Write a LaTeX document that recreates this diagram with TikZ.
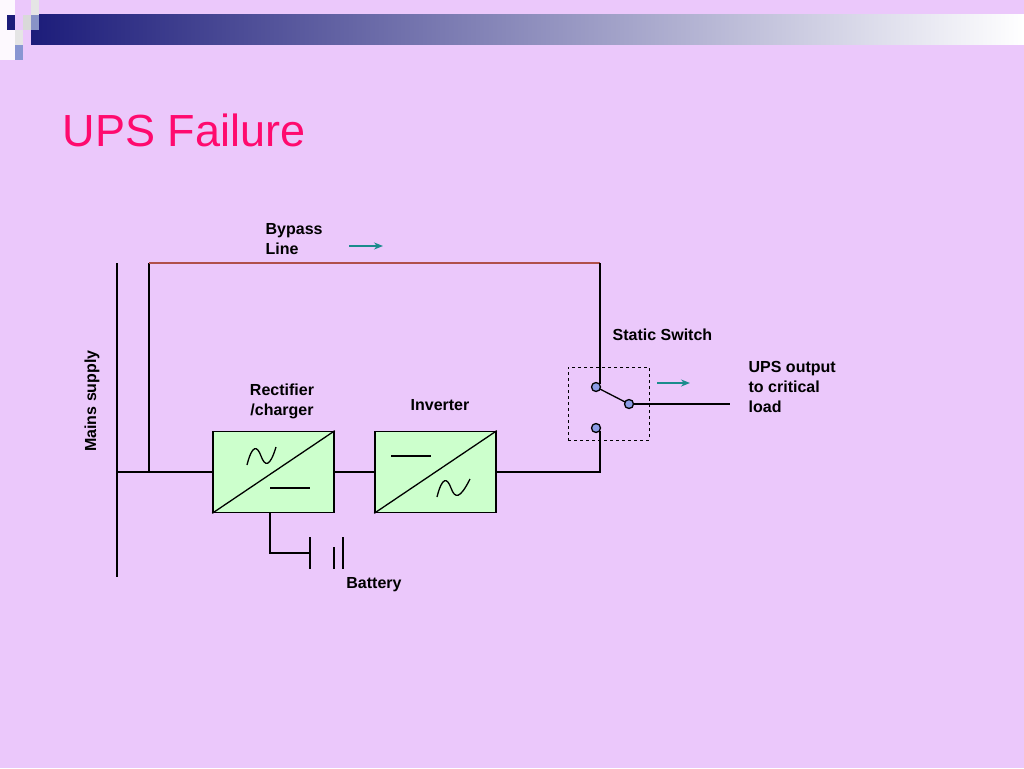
\documentclass[tikz,border=0pt]{standalone}
\usepackage{fontspec}
\setmainfont{Liberation Sans}
\usetikzlibrary{positioning}
\usetikzlibrary{arrows.meta}
\definecolor{slidebg}{HTML}{EBC8FB}
\definecolor{titlepink}{HTML}{FF0A6E}
\definecolor{boxgreen}{HTML}{CCFFCC}
\definecolor{tealarrow}{HTML}{1A8C8C}
\definecolor{contact}{HTML}{8C9CE6}
\definecolor{bypassred}{HTML}{B0504A}
\definecolor{navy}{HTML}{1C1C7A}
\tikzset{
  lbl/.style={font=\bfseries\fontsize{16}{20}\selectfont, inner sep=0pt},
  conv/.style={draw, fill=boxgreen, minimum width=121pt, minimum height=81pt, inner sep=0pt, line width=1.6pt},
  pin/.style={circle, draw, fill=contact, minimum size=9pt, inner sep=0pt},
  flow/.style={-{Stealth[length=9pt,width=7pt]}, tealarrow, line width=1.5pt}
}
\begin{document}
\begin{tikzpicture}[x=1pt, y=-1pt, line width=1.3pt]
        % Background and header
        \fill[slidebg] (0,0) rectangle (1024,768);
        \useasboundingbox (0,0) rectangle (1024,768);
        \shade[left color=navy, right color=white, draw=none] (31,15) rectangle (1024,45);
        \fill[white!90!slidebg] (0,0) rectangle (15,60);
        \fill[navy] (7,15) rectangle (15,30);
        \fill[white!70!gray] (23,15) rectangle (31,30);
        \fill[contact!70!gray] (31,15) rectangle (39,30);
        \fill[white!80!gray] (31,0) rectangle (39,15);
        \fill[contact!80!gray] (15,45) rectangle (23,60);
        \fill[white!80!gray] (15,30) rectangle (23,45);
        \node[anchor=west, text=titlepink, font=\fontsize{45}{50}\selectfont, inner sep=0pt] (title) at (62,130) {UPS Failure};

        % Define the coordinates of the points
        \coordinate (mainsTop) at (117,263);
        \coordinate (mainsBot) at (117,577);
        \coordinate (tap) at (117,472);
        \coordinate (byBot) at (149,472);
        \coordinate (byTop) at (149,263);
        \coordinate (byEnd) at (600,263);
        \coordinate (outEnd) at (730,404);
        \coordinate (invOut) at (600,472);
        \coordinate (batTap) at (270,513);

        % Converters
        \node[conv] (rect) at (273.5,472) {};
        \node[conv] (inv) at (435.5,472) {};
        \draw (rect.south west) -- (rect.north east);
        \draw (inv.south west) -- (inv.north east);
        \draw (247,465) .. controls (252,445) and (257,445) .. (261,456) .. controls (265,467) and (270,467) .. (276,447);
        \draw (270,488) -- (310,488);
        \draw (391,456) -- (431,456);
        \draw (437,497) .. controls (442,477) and (447,477) .. (451,488) .. controls (455,499) and (460,499) .. (470,479);

        % Static switch
        \node[draw, dashed, line width=1pt, minimum width=81pt, minimum height=73pt] (sw) at (608.5,403.5) {};

        % Draw the lines
        \draw (mainsTop) -- (mainsBot);
        \draw (tap) -- (rect.west);
        \draw (byBot) -- (byTop);
        \draw[bypassred] (byTop) -- (byEnd);
        \draw (byEnd) -- (600,384);
        \draw (596,387) -- (629,404);
        \draw (629,404) -- (outEnd);
        \draw (rect.east) -- (inv.west);
        \draw (inv.east) -- (invOut) -- (600,431);
        \node[pin] (pa) at (596,387) {};
        \node[pin] (pb) at (629,404) {};
        \node[pin] (pc) at (596,428) {};

        % Battery
        \coordinate (batA) at (310,553);
        \draw (batTap) -- (270,553) -- (batA);
        \draw (310,537) -- (310,569);
        \draw (334,547) -- (334,569);
        \draw (343,537) -- (343,569);

        % Arrows and labels
        \coordinate (fa) at (349,246);
        \coordinate (fb) at (383,246);
        \draw[flow] (fa) -- (fb);
        \coordinate (fc) at (657,383);
        \coordinate (fd) at (690,383);
        \draw[flow] (fc) -- (fd);
        \node[lbl, anchor=north west, align=left] (bypass) at (265,223) {Bypass\\Line};
        \node[lbl, anchor=west] (static) at (612,335) {Static Switch};
        \node[lbl, anchor=north west, align=left] (load) at (748,361) {UPS output\\to critical\\load};
        \node[lbl, align=center] (rlabel) at (282,401) {Rectifier\\/charger};
        \node[lbl] (ilabel) at (440,405) {Inverter};
        \node[lbl] (blabel) at (374,585) {Battery};
        \node[lbl, rotate=90] (mains) at (92,401) {Mains supply};
\end{tikzpicture}
\end{document}
